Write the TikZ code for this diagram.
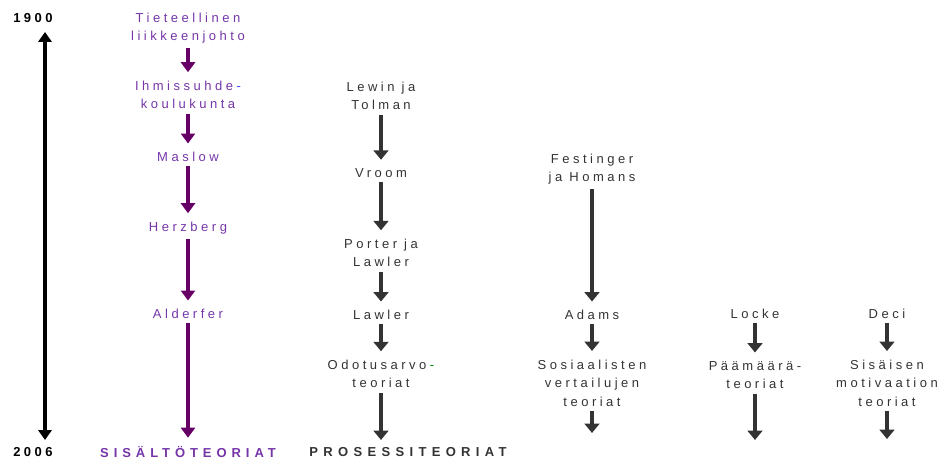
\documentclass[tikz,border=0pt]{standalone}
\usepackage{fontspec}
\setmainfont{Liberation Sans}[LetterSpace=27]
\usepackage{tikz}
\usetikzlibrary{arrows.meta}
\usetikzlibrary{bayesnet}

\definecolor{ContentText}{HTML}{7535A8}
\definecolor{ContentArrow}{HTML}{660066}
\definecolor{ProcessGray}{HTML}{333333}

\tikzset{
  early/.style={align=center, text=ContentText},
  proc/.style={align=center, text=ProcessGray},
  year/.style={font=\fontsize{9.75}{13.9}\selectfont\bfseries, text=black},
  headline/.style={font=\fontsize{9.75}{13.9}\selectfont\bfseries\addfontfeature{LetterSpace=#1}},
  earlyedge/.style={-{Triangle[width=10.5pt,length=7.5pt]}, line width=3.4pt, color=ContentArrow, shorten >=3pt},
  procedge/.style={-{Triangle[width=11pt,length=7pt]}, line width=2.6pt, color=ProcessGray, shorten >=3pt},
  timeline/.style={{Triangle[width=10pt,length=7.5pt]}-{Triangle[width=10pt,length=7.5pt]}, line width=3pt, color=black}
}

\begin{document}
\begin{tikzpicture}[x=0.75pt, y=-0.75pt,
  every node/.style={font=\fontsize{9.75}{13.9}\selectfont}]
\useasboundingbox (0,0) rectangle (940,460);
% time axis
\node[year] (y1900) at (33,18) {1900};
\node[year] (y2006) at (33,452) {2006};
\coordinate (ttop) at (45,32);
\coordinate (tbot) at (45,440);
\edge [timeline] {ttop} {tbot} ;
% content theories
\node[early] (tiet) at (188,28) {Tieteellinen\\liikkeenjohto};
\node[early] (ihm) at (188,95) {Ihmissuhde\kern.27em{\color{blue!75}-}\\koulukunta};
\node[early] (mas) at (188,157) {Maslow};
\node[early] (her) at (188,228) {Herzberg};
\node[early] (ald) at (188,314) {Alderfer};
\node[headline=38, text=ContentText] (sis) at (188,452) {SISÄLTÖTEORIAT};
\edge [earlyedge] {tiet} {ihm} ;
\edge [earlyedge] {ihm} {mas} ;
\edge [earlyedge] {mas} {her} ;
\edge [earlyedge] {her} {ald} ;
\edge [earlyedge] {ald} {sis} ;
% process theories
\node[proc] (lt) at (381,96) {Lewin ja\\Tolman};
\node[proc] (vr) at (381,173) {Vroom};
\node[proc] (pl) at (381,253) {Porter ja\\Lawler};
\node[proc] (la) at (381,315) {Lawler};
\node[proc] (od) at (381,374) {Odotusarvo\kern.27em{\color{green!55!black}-}\\teoriat};
\node[headline=41, text=ProcessGray] (pro) at (408,452) {PROSESSITEORIAT};
\coordinate (odend) at (381,444);
\edge [procedge] {lt} {vr} ;
\edge [procedge] {vr} {pl} ;
\edge [procedge] {pl} {la} ;
\edge [procedge] {la} {od} ;
\edge [procedge] {od} {odend} ;
% equity
\node[proc] (fh) at (592,169) {Festinger\\ja Homans};
\node[proc] (ad) at (592,315) {Adams};
\node[proc] (sv) at (592,383) {Sosiaalisten\\vertailujen\\teoriat};
\coordinate (svend) at (592,437);
\edge [procedge] {fh} {ad} ;
\edge [procedge] {ad} {sv} ;
\edge [procedge] {sv} {svend} ;
% goals
\node[proc] (lo) at (755,314) {Locke};
\node[proc] (pa) at (755,375) {Päämäärä-\\teoriat};
\coordinate (paend) at (755,444);
\edge [procedge] {lo} {pa} ;
\edge [procedge] {pa} {paend} ;
% intrinsic motivation
\node[proc] (de) at (887,314) {Deci};
\node[proc] (sm) at (887,383) {Sisäisen\\motivaation\\teoriat};
\coordinate (smend) at (887,443);
\edge [procedge] {de} {sm} ;
\edge [procedge] {sm} {smend}
\end{tikzpicture}
\end{document}
